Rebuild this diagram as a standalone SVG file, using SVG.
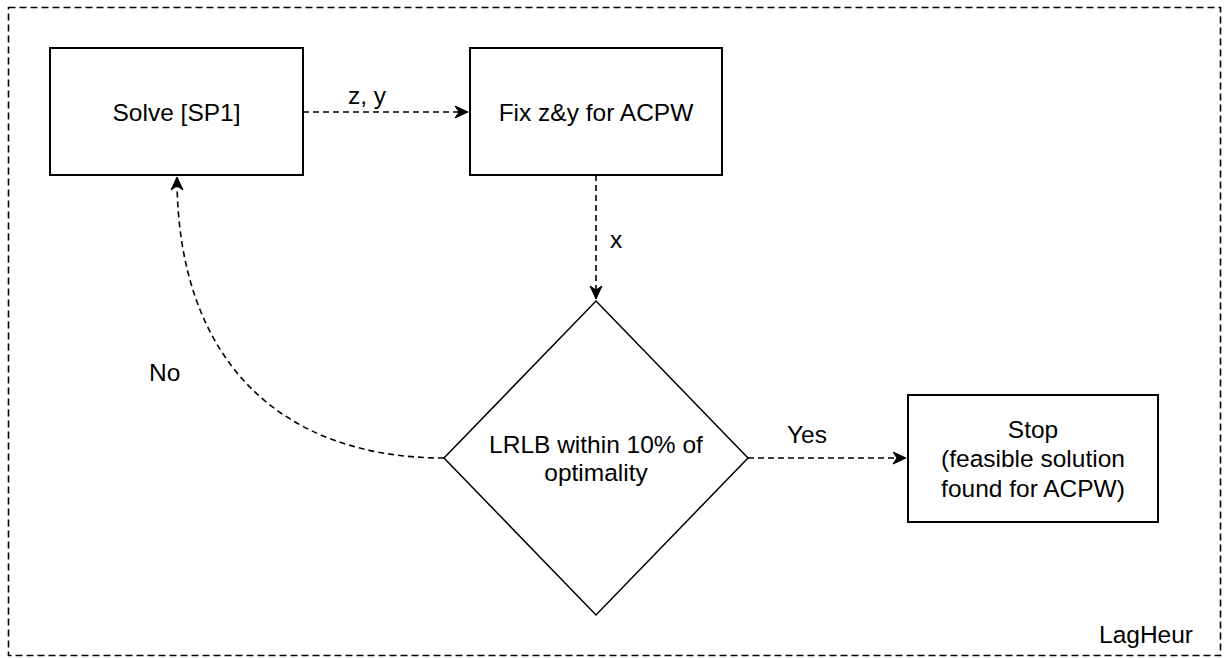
<svg xmlns="http://www.w3.org/2000/svg" width="1228" height="658" viewBox="0 0 1228 658">
<style>
  text { font-family: "Liberation Sans", Arial, Helvetica, sans-serif; font-size: 24.5px; fill: #000; }
  .node { fill: #fff; stroke: #000; stroke-width: 2; }
  .diamond { fill: #fff; stroke: #000; stroke-width: 1.5; }
  .edge { fill: none; stroke: #000; stroke-width: 1.6; stroke-dasharray: 6 4; }
  .frame { fill: none; stroke: #000; stroke-width: 1.6; stroke-dasharray: 7 4; }
  .c { text-anchor: middle; }
</style>
<defs>
  <marker id="arr" markerUnits="userSpaceOnUse" markerWidth="16" markerHeight="14" viewBox="-14 -7 16 14" refX="0" refY="0" orient="auto">
    <path d="M0,0 L-13,-6 L-9,0 L-13,6 Z" fill="#000" stroke="#000" stroke-width="1"/>
  </marker>
</defs>
<rect width="1228" height="658" fill="#fff"/>
<g id="frame">
  <rect class="frame" x="8.5" y="7.5" width="1212" height="648"/>
  <text x="1193" y="643" text-anchor="end">LagHeur</text>
</g>
<g id="connectors">
  <path class="edge" d="M303,112 L468,112" marker-end="url(#arr)"/>
  <text class="c" x="367" y="104">z, y</text>
  <path class="edge" d="M596,175 L596,299" marker-end="url(#arr)"/>
  <text x="610" y="248">x</text>
  <path class="edge" d="M748,458 L906,458" marker-end="url(#arr)"/>
  <text class="c" x="807" y="443">Yes</text>
  <path class="edge" d="M444,458 C280,458 177,360 177,177" marker-end="url(#arr)"/>
  <text x="149" y="381">No</text>
</g>
<g id="solve">
  <rect class="node" x="50" y="48" width="253" height="127"/>
  <text class="c" x="176.5" y="121">Solve [SP1]</text>
</g>
<g id="fix">
  <rect class="node" x="470" y="48" width="252" height="127"/>
  <text class="c" x="596" y="121">Fix z&amp;y for ACPW</text>
</g>
<g id="decision">
  <polygon class="diamond" points="596,301 748,458 596,615 444,458"/>
  <text class="c" x="596" y="453">LRLB within 10% of</text>
  <text class="c" x="596" y="481">optimality</text>
</g>
<g id="stop">
  <rect class="node" x="908" y="395" width="250" height="127"/>
  <text class="c" x="1033" y="438">Stop</text>
  <text class="c" x="1033" y="467">(feasible solution</text>
  <text class="c" x="1033" y="497">found for ACPW)</text>
</g>
</svg>
